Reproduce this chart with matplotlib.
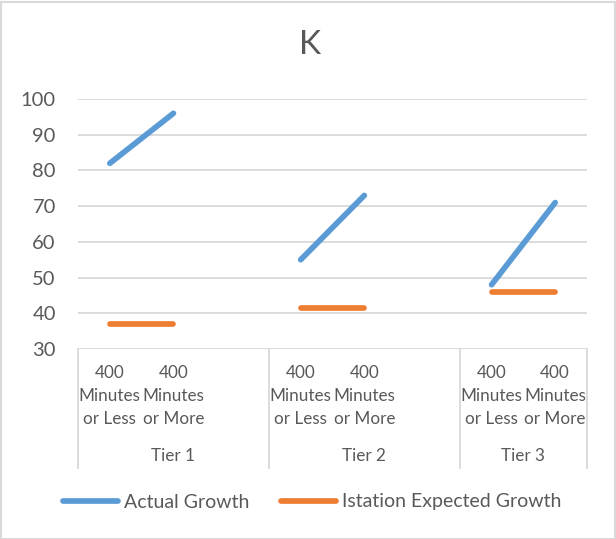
import numpy as np
import matplotlib
matplotlib.use("Agg")
import matplotlib.pyplot as plt
from matplotlib.patches import Rectangle

plt.rcParams['font.family'] = ['Lato', 'DejaVu Sans']

# ---- data ----
title = "K"
tiers = ["Tier 1", "Tier 2", "Tier 3"]
tier_slots = [3, 3, 2]  # number of category slots per tier (incl. blank)
slot_labels = ["400\nMinutes\nor Less", "400\nMinutes\nor More", "",
               "400\nMinutes\nor Less", "400\nMinutes\nor More", "",
               "400\nMinutes\nor Less", "400\nMinutes\nor More"]
actual_growth = [82, 96, np.nan, 55, 73, np.nan, 48, 71]
expected_growth = [37, 37, np.nan, 41.5, 41.5, np.nan, 46, 46]
series_names = ["Actual Growth", "Istation Expected Growth"]
yticks = [30, 40, 50, 60, 70, 80, 90, 100]

BLUE = "#5B9BD5"
ORANGE = "#ED7D31"
TXT = "#595959"
GRID = "#D9D9D9"

W, H = 616, 539
fig = plt.figure(figsize=(W / 100, H / 100), dpi=100)
L, R, T, B = 78, 587, 99, 349
ax = fig.add_axes([L / W, 1 - B / H, (R - L) / W, (B - T) / H])

n = len(slot_labels)
x = np.arange(n) + 0.5
LW = 4.1
ax.plot(x, actual_growth, color=BLUE, lw=LW, solid_capstyle='round',
        label=series_names[0], zorder=3)
ax.plot(x, expected_growth, color=ORANGE, lw=LW, solid_capstyle='round',
        label=series_names[1], zorder=3)

ax.set_xlim(0, n)
ax.set_ylim(30, 100)
ax.set_yticks(yticks)
ax.set_yticklabels([str(v) for v in yticks], fontsize=14.5, color=TXT)
ax.tick_params(axis='y', length=0, pad=16)
ax.set_xticks([])
for s in ax.spines.values():
    s.set_visible(False)
for v in yticks:
    ax.axhline(v, color=GRID, lw=1.3, zorder=1)

# multi-level category axis
tr = ax.get_xaxis_transform()
def ay(px):
    return (B - px) / (B - T)

line_y = [373, 396, 419]
for xi, lab in zip(x, slot_labels):
    if not lab:
        continue
    for k, part in enumerate(lab.split("\n")):
        ax.text(xi, ay(line_y[k]), part, transform=tr, ha='center', va='center',
                fontsize=12.3, color=TXT)

start = 0
bounds = [0]
for tname, cnt in zip(tiers, tier_slots):
    ax.text(start + cnt / 2, ay(456), tname, transform=tr, ha='center', va='center',
            fontsize=12.3, color=TXT)
    start += cnt
    bounds.append(start)
for bx in bounds:
    ax.plot([bx, bx], [0, ay(468)], transform=tr, color=GRID, lw=1.3, clip_on=False)

fig.text(310 / W, 1 - 45 / H, title, fontsize=24, color=TXT, ha='center', va='center')

leg = fig.legend(loc='center', bbox_to_anchor=(312 / W, 1 - 502 / H), ncol=2,
                 frameon=False, fontsize=14, handlelength=2.85, handletextpad=0.3,
                 columnspacing=1.6, labelcolor=TXT)
for h in leg.get_lines():
    h.set_linewidth(LW)
    h.set_solid_capstyle('round')

fig.patches.append(Rectangle((0.5 / W, 0.5 / H), 1 - 2 / W, 1 - 2 / H,
                             transform=fig.transFigure, fill=False,
                             edgecolor=GRID, lw=1.5))

fig.savefig("out.png", dpi=100)
